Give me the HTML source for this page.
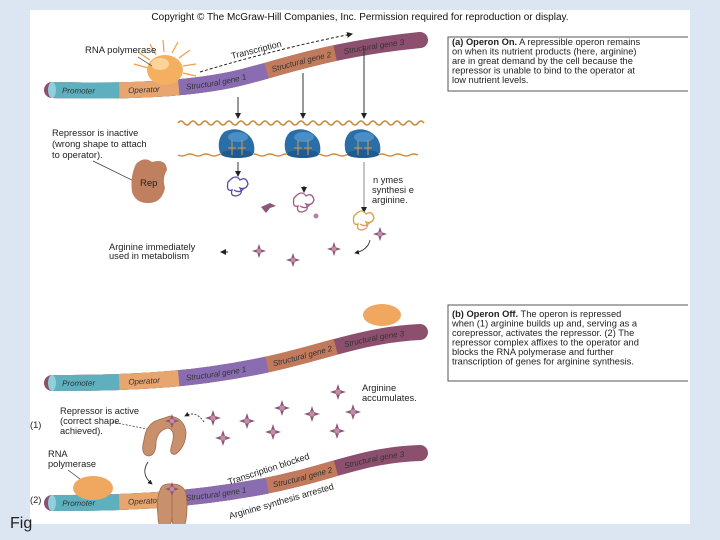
<!DOCTYPE html>
<html><head><meta charset="utf-8"><style>
html,body{margin:0;padding:0;background:#dce6f2;}
body{width:720px;height:540px;position:relative;overflow:hidden;font-family:"Liberation Sans",sans-serif;}
svg{position:absolute;left:0;top:0}
</style></head><body>
<svg width="720" height="540" viewBox="0 0 720 540" font-family="Liberation Sans, sans-serif">
<defs>
<symbol id="st" viewBox="-9 -9 18 18" overflow="visible">
<path d="M0,-8 L2,-2 L8,0 L2,2 L0,8 L-2,2 L-8,0 L-2,-2Z" fill="#8a5776"/>
<circle r="2.6" fill="#c48aa8"/>
</symbol>
<marker id="ar" markerWidth="6" markerHeight="6" refX="5" refY="3" orient="auto"><path d="M0,0 L6,3 L0,6Z" fill="#222"/></marker>
<path id="d1" d="M52,90 C140,92 190,88 230,80 S320,50 420,40"/>
<path id="d2" d="M52,383 C150,383 200,378 260,366 S360,335 420,332"/>
<path id="d3" d="M52,503 C130,503 190,500 260,487 S360,455 420,453"/>
</defs>
<rect x="30" y="10" width="660" height="514" fill="#fff"/>
<text x="360" y="20" font-size="10" text-anchor="middle" fill="#111">Copyright © The McGraw-Hill Companies, Inc. Permission required for reproduction or display.</text>

<path d="M688,37 H448 V91 H688" fill="none" stroke="#555" stroke-width="1"/>
<g font-size="9.3" fill="#222">
<text x="452" y="45"><tspan font-weight="bold">(a) Operon On.</tspan> A repressible operon remains</text>
<text x="452" y="54.5">on when its nutrient products (here, arginine)</text>
<text x="452" y="64">are in great demand by the cell because the</text>
<text x="452" y="73.5">repressor is unable to bind to the operator at</text>
<text x="452" y="83">low nutrient levels.</text>
</g>
<path d="M688,305 H448 V381 H688" fill="none" stroke="#555" stroke-width="1"/>
<g font-size="9.3" fill="#222">
<text x="452" y="317"><tspan font-weight="bold">(b) Operon Off.</tspan> The operon is repressed</text>
<text x="452" y="326.5">when (1) arginine builds up and, serving as a</text>
<text x="452" y="336">corepressor, activates the repressor. (2) The</text>
<text x="452" y="345.5">repressor complex affixes to the operator and</text>
<text x="452" y="355">blocks the RNA polymerase and further</text>
<text x="452" y="364.5">transcription of genes for arginine synthesis.</text>
</g>

<g fill="none" stroke-width="16">
<path d="M52,90 C140,92 190,88 230,80 S320,50 420,40" stroke="#8c4f6e" stroke-linecap="round"/>
<path d="M52,90 C140,92 190,88 230,80 S320,50 420,40" pathLength="100" stroke="#c27a5c" stroke-dasharray="77 200"/>
<path d="M52,90 C140,92 190,88 230,80 S320,50 420,40" pathLength="100" stroke="#8a6db0" stroke-dasharray="58 200"/>
<path d="M52,90 C140,92 190,88 230,80 S320,50 420,40" pathLength="100" stroke="#e8a56e" stroke-dasharray="34 200"/>
<path d="M52,90 C140,92 190,88 230,80 S320,50 420,40" pathLength="100" stroke="#5fb0bf" stroke-dasharray="18 200"/>
<path d="M52,383 C150,383 200,378 260,366 S360,335 420,332" stroke="#8c4f6e" stroke-linecap="round"/>
<path d="M52,383 C150,383 200,378 260,366 S360,335 420,332" pathLength="100" stroke="#c27a5c" stroke-dasharray="77 200"/>
<path d="M52,383 C150,383 200,378 260,366 S360,335 420,332" pathLength="100" stroke="#8a6db0" stroke-dasharray="58 200"/>
<path d="M52,383 C150,383 200,378 260,366 S360,335 420,332" pathLength="100" stroke="#e8a56e" stroke-dasharray="34 200"/>
<path d="M52,383 C150,383 200,378 260,366 S360,335 420,332" pathLength="100" stroke="#5fb0bf" stroke-dasharray="18 200"/>
<path d="M52,503 C130,503 190,500 260,487 S360,455 420,453" stroke="#8c4f6e" stroke-linecap="round"/>
<path d="M52,503 C130,503 190,500 260,487 S360,455 420,453" pathLength="100" stroke="#c27a5c" stroke-dasharray="77 200"/>
<path d="M52,503 C130,503 190,500 260,487 S360,455 420,453" pathLength="100" stroke="#8a6db0" stroke-dasharray="58 200"/>
<path d="M52,503 C130,503 190,500 260,487 S360,455 420,453" pathLength="100" stroke="#e8a56e" stroke-dasharray="34 200"/>
<path d="M52,503 C130,503 190,500 260,487 S360,455 420,453" pathLength="100" stroke="#5fb0bf" stroke-dasharray="18 200"/>
</g>
<ellipse cx="52" cy="90" rx="4" ry="8" fill="#8fd0da"/>
<ellipse cx="52" cy="383" rx="4" ry="8" fill="#8fd0da"/>
<ellipse cx="52" cy="503" rx="4" ry="8" fill="#8fd0da"/>
<g font-size="8" fill="#333" font-style="italic">
<text dy="3"><textPath href="#d1" startOffset="10">Promoter</textPath></text>
<text dy="3"><textPath href="#d1" startOffset="76">Operator</textPath></text>
<text dy="3"><textPath href="#d1" startOffset="134">Structural gene 1</textPath></text>
<text dy="3"><textPath href="#d1" startOffset="222">Structural gene 2</textPath></text>
<text dy="3"><textPath href="#d1" startOffset="296">Structural gene 3</textPath></text>
<text dy="3"><textPath href="#d2" startOffset="10">Promoter</textPath></text>
<text dy="3"><textPath href="#d2" startOffset="76">Operator</textPath></text>
<text dy="3"><textPath href="#d2" startOffset="134">Structural gene 1</textPath></text>
<text dy="3"><textPath href="#d2" startOffset="222">Structural gene 2</textPath></text>
<text dy="3"><textPath href="#d2" startOffset="296">Structural gene 3</textPath></text>
<text dy="3"><textPath href="#d3" startOffset="10">Promoter</textPath></text>
<text dy="3"><textPath href="#d3" startOffset="76">Operator</textPath></text>
<text dy="3"><textPath href="#d3" startOffset="134">Structural gene 1</textPath></text>
<text dy="3"><textPath href="#d3" startOffset="222">Structural gene 2</textPath></text>
<text dy="3"><textPath href="#d3" startOffset="296">Structural gene 3</textPath></text>
</g>

<g stroke="#f0a040" stroke-width="1.2">
<path d="M148,68 L134,64 M150,60 L138,52 M156,55 L150,44 M164,52 L163,40 M172,53 L178,42 M179,58 L190,50 M183,66 L196,64 M183,73 L196,76"/>
</g>
<ellipse cx="165" cy="70" rx="18" ry="15" fill="#f4b060"/>
<ellipse cx="160" cy="64" rx="9" ry="6" fill="#fbd49a"/>
<text x="85" y="53" font-size="9.5" fill="#222">RNA polymerase</text>
<line x1="138" y1="57" x2="152" y2="66" stroke="#333" stroke-width="0.7"/>
<path d="M200,72 Q280,48 352,34" fill="none" stroke="#222" stroke-width="1" stroke-dasharray="3 2" marker-end="url(#ar)"/>
<text font-size="9" fill="#222" transform="translate(232,59) rotate(-14)">Transcription</text>

<g stroke="#333" stroke-width="1" marker-end="url(#ar)">
<line x1="238" y1="97" x2="238" y2="118"/>
<line x1="303" y1="73" x2="303" y2="118"/>
<line x1="364" y1="48" x2="364" y2="118"/>
<line x1="238" y1="162" x2="238" y2="176"/>
<line x1="304" y1="186" x2="304" y2="192"/>
<line x1="364" y1="162" x2="364" y2="212" stroke="#888"/>
</g>
<path d="M178,123 q3,-4 6,0 t6,0 t6,0 t6,0 t6,0 t6,0 t6,0 t6,0 t6,0 t6,0 t6,0 t6,0 t6,0 t6,0 t6,0 t6,0 t6,0 t6,0 t6,0 t6,0 t6,0 t6,0 t6,0 t6,0 t6,0 t6,0 t6,0 t6,0 t6,0 t6,0 t6,0 t6,0 t6,0 t6,0 t6,0 t6,0 t6,0 t6,0 t6,0 t6,0 t6,0" fill="none" stroke="#d08a40" stroke-width="1.6"/>
<path d="M178,155 q4,2 8,0 t8,0 t8,0 t8,0 t8,0 t8,0 t8,0 t8,0 t8,0 t8,0 t8,0 t8,0 t8,0 t8,0 t8,0 t8,0 t8,0 t8,0 t8,0 t8,0 t8,0 t8,0 t8,0 t8,0 t8,0 t8,0 t8,0 t8,0 t8,0 t8,0" fill="none" stroke="#d08a40" stroke-width="1.4"/>
<g>
<path d="M220,153 Q216,140 224,132 Q236,126 246,133 Q256,140 254,153 Z" fill="#2a6ea8"/>
<ellipse cx="237" cy="154" rx="16" ry="4" fill="#1f5a90"/>
<ellipse cx="238" cy="137" rx="10" ry="5" fill="#4a8ec8"/>
<path d="M232,140 V155 M242,140 V155 M228,148 H236 M238,148 H246" stroke="#d39a50" stroke-width="1"/>
</g>
<g transform="translate(66,0)">
<path d="M220,153 Q216,140 224,132 Q236,126 246,133 Q256,140 254,153 Z" fill="#2a6ea8"/>
<ellipse cx="237" cy="154" rx="16" ry="4" fill="#1f5a90"/>
<ellipse cx="238" cy="137" rx="10" ry="5" fill="#4a8ec8"/>
<path d="M232,140 V155 M242,140 V155 M228,148 H236 M238,148 H246" stroke="#d39a50" stroke-width="1"/>
</g>
<g transform="translate(126,0)">
<path d="M220,153 Q216,140 224,132 Q236,126 246,133 Q256,140 254,153 Z" fill="#2a6ea8"/>
<ellipse cx="237" cy="154" rx="16" ry="4" fill="#1f5a90"/>
<ellipse cx="238" cy="137" rx="10" ry="5" fill="#4a8ec8"/>
<path d="M232,140 V155 M242,140 V155 M228,148 H236 M238,148 H246" stroke="#d39a50" stroke-width="1"/>
</g>

<g font-size="9.3" fill="#222">
<text x="52" y="136">Repressor is inactive</text>
<text x="52" y="147">(wrong shape to attach</text>
<text x="52" y="158">to operator).</text>
</g>
<line x1="93" y1="161" x2="138" y2="183" stroke="#333" stroke-width="0.7"/>
<path d="M136,164 Q144,156 152,162 Q166,158 167,170 Q162,178 165,188 Q162,202 150,203 Q136,204 132,192 Q130,176 136,164Z" fill="#c08060"/>
<text x="140" y="186" font-size="9.5" fill="#222">Rep</text>

<g fill="none" stroke-width="1.3">
<path d="M230,180 q6,-6 10,0 q6,-4 8,4 q-2,6 -8,4 q4,6 -4,8 q-6,0 -4,-6 q-6,2 -4,-8z M234,190 q6,4 10,-2" stroke="#5a4aa8"/>
<path d="M296,196 q6,-6 10,0 q6,-4 8,4 q-2,6 -8,4 q4,6 -4,8 q-6,0 -4,-6 q-6,2 -4,-8z M300,206 q6,4 10,-2" stroke="#a05a88"/>
<path d="M356,214 q6,-6 10,0 q6,-4 8,4 q-2,6 -8,4 q4,6 -4,8 q-6,0 -4,-6 q-6,2 -4,-8z M360,224 q6,4 10,-2" stroke="#d8a040"/>
</g>
<path d="M261,207 L270,203 L276,206 L270,208 L266,213Z" fill="#8a5776"/>
<circle cx="316" cy="216" r="2.5" fill="#b9809f"/>
<g font-size="9.3" fill="#222">
<text x="373" y="183">n ymes</text>
<text x="372" y="193">synthesi e</text>
<text x="372" y="203">arginine.</text>
<text x="109" y="250">Arginine immediately</text>
<text x="109" y="259">used in metabolism</text>
</g>
<path d="M228,252 L221,252" stroke="#222" marker-end="url(#ar)"/>
<use href="#st" x="372" y="226" width="16" height="16"/>
<use href="#st" x="251" y="243" width="16" height="16"/>
<use href="#st" x="285" y="252" width="16" height="16"/>
<use href="#st" x="326" y="241" width="16" height="16"/>
<path d="M370,240 Q368,250 355,253" fill="none" stroke="#222" stroke-width="0.8" marker-end="url(#ar)"/>

<ellipse cx="382" cy="315" rx="19" ry="11" fill="#f0a860"/>
<g font-size="9.3" fill="#222">
<text x="362" y="391">Arginine</text>
<text x="362" y="401">accumulates.</text>
<text x="30" y="428">(1)</text>
<text x="60" y="414">Repressor is active</text>
<text x="60" y="424">(correct shape</text>
<text x="60" y="434">achieved).</text>
<text x="48" y="457">RNA</text>
<text x="48" y="467">polymerase</text>
<text x="30" y="503">(2)</text>
</g>
<path d="M112,422 L152,430" stroke="#333" stroke-width="0.7" stroke-dasharray="2 1.5"/>
<use href="#st" x="329" y="383" width="18" height="18"/>
<use href="#st" x="273" y="399" width="18" height="18"/>
<use href="#st" x="303" y="405" width="18" height="18"/>
<use href="#st" x="344" y="403" width="18" height="18"/>
<use href="#st" x="204" y="409" width="18" height="18"/>
<use href="#st" x="238" y="412" width="18" height="18"/>
<use href="#st" x="264" y="423" width="18" height="18"/>
<use href="#st" x="328" y="422" width="18" height="18"/>
<use href="#st" x="214" y="429" width="18" height="18"/>
<path d="M158,420 Q146,424 144,440 Q140,454 148,456 Q156,456 156,442 Q158,430 168,428 Q176,430 172,444 Q168,456 176,454 Q186,446 186,432 Q184,418 170,416 Z" fill="#c9906c" stroke="#a06a4c" stroke-width="0.8"/>
<use href="#st" x="164" y="413" width="16" height="16"/>
<path d="M204,422 Q196,410 185,416" fill="none" stroke="#222" stroke-width="0.8" stroke-dasharray="2 1.5" marker-end="url(#ar)"/>
<path d="M148,462 Q140,474 152,484" fill="none" stroke="#222" stroke-width="0.8" marker-end="url(#ar)"/>
<line x1="68" y1="470" x2="84" y2="482" stroke="#333" stroke-width="0.7"/>

<ellipse cx="93" cy="488" rx="20" ry="12" fill="#f0a860"/>
<path d="M160,490 Q162,483 172,484 Q184,484 186,494 Q188,508 186,520 Q184,530 178,530 Q172,528 172,518 Q170,530 164,530 Q158,528 158,516 Q156,500 160,490Z" fill="#c9906c" stroke="#a06a4c" stroke-width="0.8"/>
<line x1="172" y1="492" x2="172" y2="518" stroke="#a06a4c" stroke-width="0.8"/>
<use href="#st" x="164" y="481" width="16" height="16"/>
<g font-size="9" fill="#222">
<text transform="translate(229,485) rotate(-18)">Transcription blocked</text>
<text transform="translate(230,519) rotate(-16)">Arginine synthesis arrested</text>
</g>
<rect x="0" y="524" width="720" height="16" fill="#dce6f2"/>
<text x="10" y="528" font-size="16" fill="#222">Fig</text>
</svg>
</body></html>
